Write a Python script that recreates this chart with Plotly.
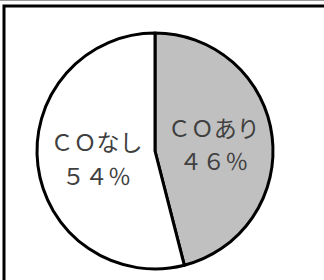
import plotly.graph_objects as go

labels = ["ＣＯあり", "ＣＯなし"]
values = [46, 54]
colors = ["#C0C0C0", "#FFFFFF"]

fw = str.maketrans("0123456789%", "０１２３４５６７８９％")
sp = '<span style="font-size:23px">{}</span>'
texts = [sp.format(l) + "<br>" + sp.format(str(v).translate(fw) + "％")
         for l, v in zip(labels, values)]

W, H = 324, 280
cx, cy, r = 155, 129, 118

fig = go.Figure(go.Pie(
    labels=labels, values=values, text=texts,
    textinfo="text", textposition="inside", insidetextorientation="horizontal",
    sort=False, direction="clockwise", rotation=0,
    marker=dict(colors=colors, line=dict(color="#000000", width=3)),
    textfont=dict(family="Noto Sans CJK JP", size=26, color="#404040"),
    domain=dict(x=[(cx - r) / W, (cx + r) / W], y=[(cy - r) / H, (cy + r) / H]),
    showlegend=False, hoverinfo="none",
))

fig.update_layout(
    width=W, height=H, margin=dict(l=0, r=0, t=0, b=0),
    paper_bgcolor="#FFFFFF", plot_bgcolor="#FFFFFF",
    shapes=[
        dict(type="rect", xref="paper", yref="paper",
             x0=4 / W, x1=1.2, y0=-0.2, y1=(H - 6) / H,
             line=dict(color="#000000", width=3), fillcolor="rgba(0,0,0,0)"),
        dict(type="line", xref="paper", yref="paper",
             x0=0, x1=1, y0=(H - 0.5) / H, y1=(H - 0.5) / H,
             line=dict(color="#999999", width=1)),
    ],
)

fig.write_html("out.html", config={"displayModeBar": False},
               post_script="document.body.style.margin='0';")
